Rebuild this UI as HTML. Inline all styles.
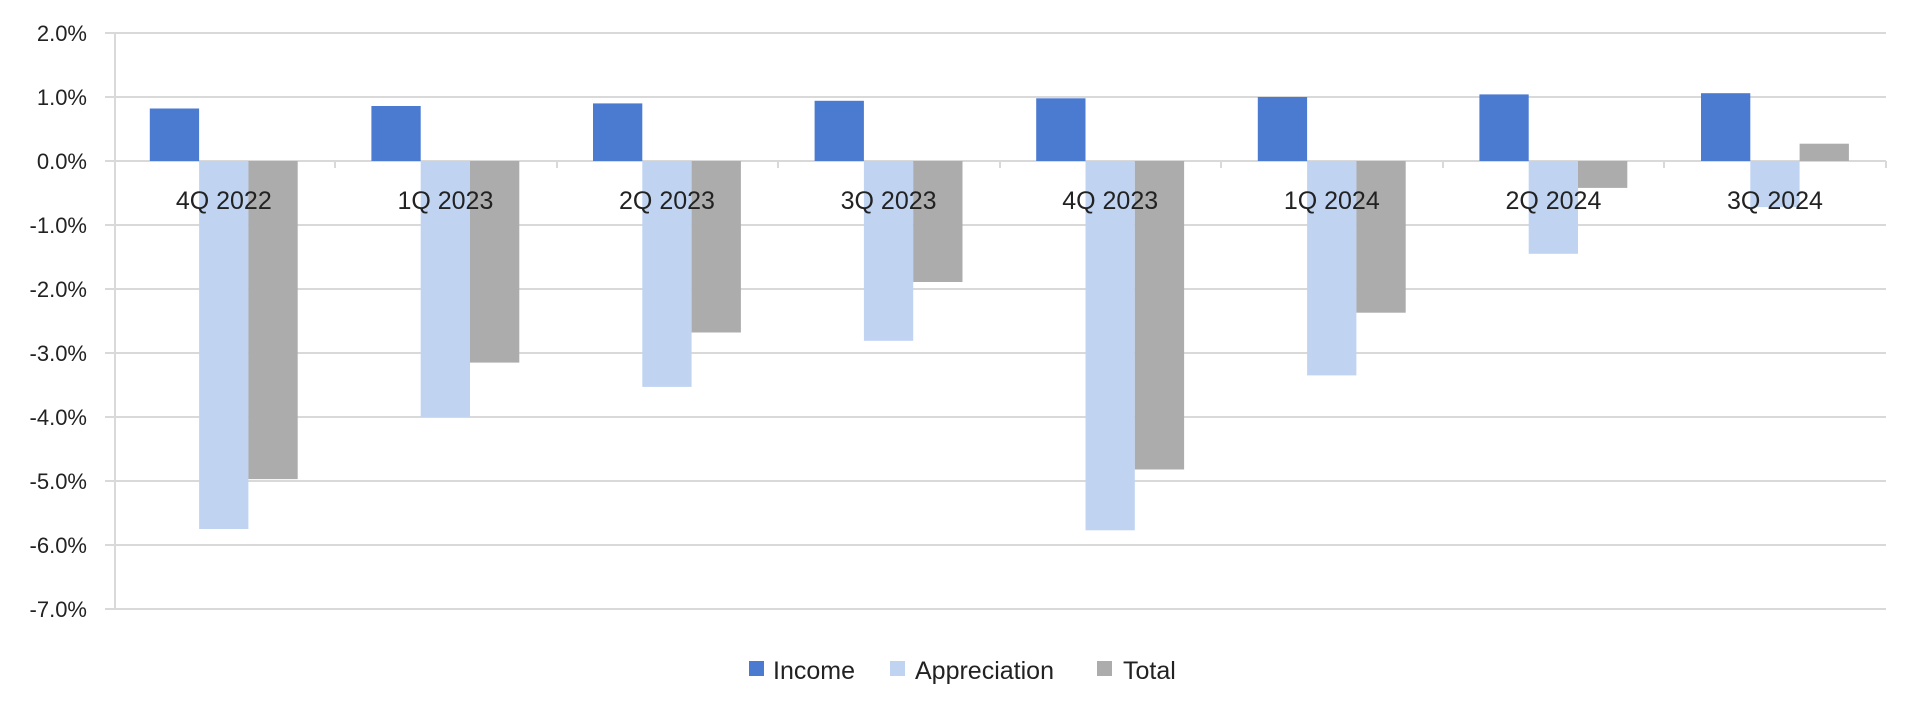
<!DOCTYPE html>
<html><head><meta charset="utf-8"><style>
html,body{margin:0;padding:0;background:#fff;}
svg{display:block;}
text{font-family:"Liberation Sans",sans-serif;}
</style></head><body>
<svg width="1918" height="715" viewBox="0 0 1918 715" xmlns="http://www.w3.org/2000/svg">
<g stroke="#d9d9d9" stroke-width="2">
<line x1="105" x2="1886" y1="33" y2="33"/>
<line x1="105" x2="1886" y1="97" y2="97"/>
<line x1="105" x2="1886" y1="161" y2="161"/>
<line x1="105" x2="1886" y1="225" y2="225"/>
<line x1="105" x2="1886" y1="289" y2="289"/>
<line x1="105" x2="1886" y1="353" y2="353"/>
<line x1="105" x2="1886" y1="417" y2="417"/>
<line x1="105" x2="1886" y1="481" y2="481"/>
<line x1="105" x2="1886" y1="545" y2="545"/>
<line x1="105" x2="1886" y1="609" y2="609"/>
<line x1="115" x2="115" y1="33" y2="609"/>
<line x1="335" x2="335" y1="161" y2="168"/><line x1="557" x2="557" y1="161" y2="168"/><line x1="778" x2="778" y1="161" y2="168"/><line x1="1000" x2="1000" y1="161" y2="168"/><line x1="1221" x2="1221" y1="161" y2="168"/><line x1="1443" x2="1443" y1="161" y2="168"/><line x1="1664" x2="1664" y1="161" y2="168"/><line x1="1886" x2="1886" y1="161" y2="168"/>
</g>
<g font-size="22" fill="#222" text-anchor="end">
<text x="87" y="41">2.0%</text><text x="87" y="105">1.0%</text><text x="87" y="169">0.0%</text>
<text x="87" y="233">-1.0%</text><text x="87" y="297">-2.0%</text><text x="87" y="361">-3.0%</text>
<text x="87" y="425">-4.0%</text><text x="87" y="489">-5.0%</text><text x="87" y="553">-6.0%</text><text x="87" y="617">-7.0%</text>
</g>
<g fill="#4a7bd0">
<rect x="149.8" y="108.5" width="49.3" height="52.5"/>
<rect x="371.4" y="106" width="49.3" height="55"/>
<rect x="593" y="103.4" width="49.3" height="57.6"/>
<rect x="814.6" y="100.8" width="49.3" height="60.2"/>
<rect x="1036.2" y="98.3" width="49.3" height="62.7"/>
<rect x="1257.8" y="97" width="49.3" height="64"/>
<rect x="1479.4" y="94.4" width="49.3" height="66.6"/>
<rect x="1701" y="93.2" width="49.3" height="67.8"/>
</g>
<g fill="#c0d4f2">
<rect x="199.1" y="161" width="49.3" height="368"/>
<rect x="420.7" y="161" width="49.3" height="256"/>
<rect x="642.3" y="161" width="49.3" height="225.9"/>
<rect x="863.9" y="161" width="49.3" height="179.8"/>
<rect x="1085.5" y="161" width="49.3" height="369.3"/>
<rect x="1307.1" y="161" width="49.3" height="214.4"/>
<rect x="1528.7" y="161" width="49.3" height="92.8"/>
<rect x="1750.3" y="161" width="49.3" height="46.1"/>
</g>
<g fill="#acacac">
<rect x="248.4" y="161" width="49.3" height="318.1"/>
<rect x="470" y="161" width="49.3" height="201.6"/>
<rect x="691.6" y="161" width="49.3" height="171.5"/>
<rect x="913.2" y="161" width="49.3" height="121"/>
<rect x="1134.8" y="161" width="49.3" height="308.5"/>
<rect x="1356.4" y="161" width="49.3" height="151.7"/>
<rect x="1578" y="161" width="49.3" height="26.9"/>
<rect x="1799.6" y="143.7" width="49.3" height="17.3"/>
</g>
<g font-size="25" fill="#222" text-anchor="middle">
<text x="223.8" y="209">4Q 2022</text>
<text x="445.4" y="209">1Q 2023</text>
<text x="667" y="209">2Q 2023</text>
<text x="888.6" y="209">3Q 2023</text>
<text x="1110.2" y="209">4Q 2023</text>
<text x="1331.8" y="209">1Q 2024</text>
<text x="1553.4" y="209">2Q 2024</text>
<text x="1775" y="209">3Q 2024</text>
</g>
<g font-size="25" fill="#222">
<rect x="749" y="661" width="15" height="15" fill="#4a7bd0"/><text x="773" y="679">Income</text>
<rect x="890" y="661" width="15" height="15" fill="#c0d4f2"/><text x="915" y="679">Appreciation</text>
<rect x="1097" y="661" width="15" height="15" fill="#acacac"/><text x="1123" y="679">Total</text>
</g>
</svg>
</body></html>
